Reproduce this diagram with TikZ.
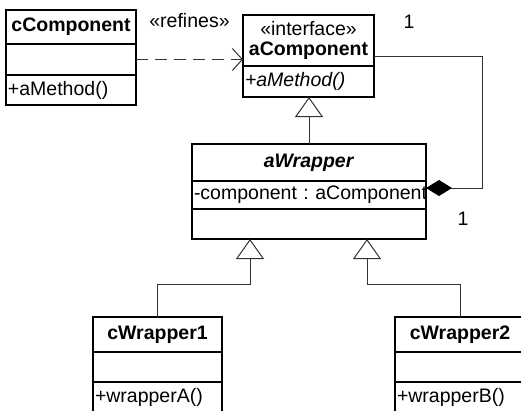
\documentclass[tikz,border=0pt]{standalone}
\usepackage{fontspec}
\setmainfont{Liberation Sans}
\usetikzlibrary{positioning,arrows.meta}
\begin{document}
\begin{tikzpicture}[x=1pt,y=-1pt,
  font=\fontsize{19.5}{22}\selectfont\frenchspacing,
  part/.style={draw,line width=1.4pt,outer sep=0pt,inner xsep=2pt,inner ysep=0pt,text width=#1,align=left},
  head/.style={part=#1,align=center},
  link/.style={line width=1pt,black!80},
  gen/.style={link,-{Triangle[open,length=20pt,width=28pt]}}]
\clip (0,0) rectangle (521,410);
% cComponent
\node[head=126pt,minimum height=34pt] (cc) at (71,27) {\textbf{cComponent}};
\node[part=126pt,minimum height=31pt,below=0pt of cc] (ccA) {};
\node[part=126pt,minimum height=30pt,below=0pt of ccA] (ccM) {\mbox{+aMethod()}};
% aComponent
\node[head=127pt,minimum height=51pt] (ac) at (308.5,40.5) {«interface»\\[-2pt]\textbf{aComponent}};
\node[part=127pt,minimum height=31pt,below=0pt of ac] (acM) {\mbox{\textit{+aMethod()}}};
% aWrapper
\node[head=230pt,minimum height=37pt] (aw) at (309,162.5) {\textbf{\textit{aWrapper}}};
\node[part=230pt,minimum height=28pt,below=0pt of aw] (awA) {\mbox{-component : aComponent}};
\node[part=230pt,minimum height=30pt,below=0pt of awA] (awM) {};
% cWrapper1, cWrapper2
\node[head=125pt,minimum height=35pt] (cw1) at (157.5,334.5) {\textbf{cWrapper1}};
\node[part=125pt,minimum height=30pt,below=0pt of cw1] (cw1A) {};
\node[part=125pt,minimum height=30pt,below=0pt of cw1A] (cw1M) {\mbox{+wrapperA()}};
\node[head=126pt,minimum height=35pt] (cw2) at (460,334.5) {\textbf{cWrapper2}};
\node[part=126pt,minimum height=30pt,below=0pt of cw2] (cw2A) {};
\node[part=126pt,minimum height=30pt,below=0pt of cw2A] (cw2M) {\mbox{+wrapperB()}};
% refines
\draw[link,dash pattern=on 12pt off 7pt,-{Straight Barb[length=10pt,width=22pt]}] (ccA.east) -- (ccA.east -| ac.west)
  node[midway,above=28pt,black] (ref) {«refines»};
% composition
\draw[link,-{Diamond[length=26pt,width=16pt,color=black,fill=black]}] ([yshift=-16pt]ac.east) -- ++(108,0) |- ([yshift=7pt]awA.east);
\node (m1) at (409,22) {1};
\node (m2) at (463,219) {1};
% generalizations
\draw[gen] (aw.north) -- (aw.north |- acM.south);
\draw[gen] (cw1.north) -- ++(0,-33) -| ([xshift=-59pt]awM.south);
\draw[gen] (cw2.north) -- ++(0,-33) -| ([xshift=58pt]awM.south);
\end{tikzpicture}
\end{document}
